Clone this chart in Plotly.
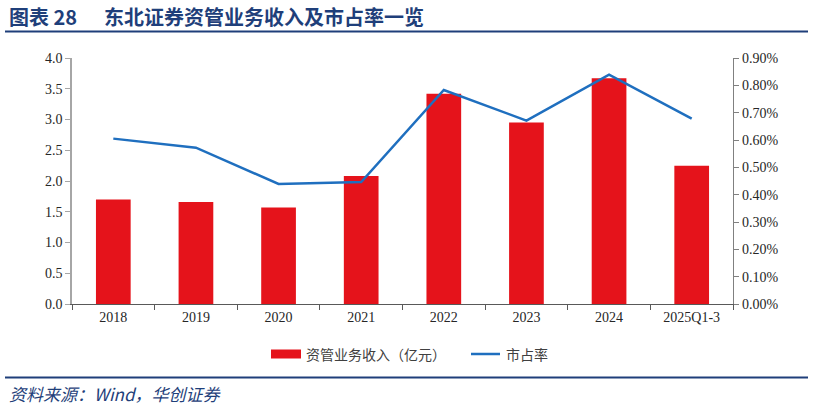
import plotly.graph_objects as go

# 数据
years = ["2018", "2019", "2020", "2021", "2022", "2023", "2024", "2025Q1-3"]
income = [1.70, 1.66, 1.57, 2.08, 3.42, 2.95, 3.67, 2.25]  # 亿元
share = [0.00605, 0.00572, 0.00439, 0.00446, 0.00783, 0.00671, 0.00839, 0.00678]

RED = "#e5131b"
BLUE = "#1f6fbf"
NAVY = "#1f3f7a"
L, R, T, B = 72, 81, 58, 104
W, H = 814, 408
pw, ph = W - L - R, H - T - B


def px_x(x):
    return (x - L) / pw


def px_y(y):
    return (H - B - y) / ph


fig = go.Figure()
fig.add_trace(go.Bar(x=years, y=income, name="资管业务收入（亿元）",
                     marker=dict(color=RED, line=dict(width=0)), width=0.42,
                     showlegend=False))
fig.add_trace(go.Scatter(x=years, y=share, name="市占率", yaxis="y2", mode="lines",
                         line=dict(color=BLUE, width=2.5), showlegend=False))

tickfont = dict(family="Liberation Serif", size=14, color="#262626")
fig.update_layout(
    width=W, height=H,
    margin=dict(l=L, r=R, t=T, b=B),
    paper_bgcolor="white", plot_bgcolor="white",
    xaxis=dict(type="category", tickfont=tickfont, showline=True, linecolor="#595959",
               linewidth=1.2, ticks="outside", tickson="boundaries", ticklen=5,
               tickcolor="#595959", showgrid=False),
    yaxis=dict(range=[0, 4], dtick=0.5, tickformat=".1f", tickfont=tickfont, showline=True,
               linecolor="#a6a6a6", linewidth=1.5, ticks="outside", ticklen=5,
               tickcolor="#a6a6a6", showgrid=False, zeroline=False),
    yaxis2=dict(range=[0, 0.009], dtick=0.001, tickformat=".2%", tickfont=tickfont,
                overlaying="y", side="right", showline=True, linecolor="#808080",
                linewidth=1.2, ticks="outside", ticklen=5, tickcolor="#808080",
                showgrid=False, zeroline=False),
)

cjk = "Noto Sans CJK SC"
shapes = [
    dict(type="line", xref="paper", yref="paper", x0=px_x(5), x1=px_x(808),
         y0=px_y(31.5), y1=px_y(31.5), line=dict(color=NAVY, width=2)),
    dict(type="line", xref="paper", yref="paper", x0=px_x(5), x1=px_x(808),
         y0=px_y(377.5), y1=px_y(377.5), line=dict(color=NAVY, width=2)),
    dict(type="rect", xref="paper", yref="paper", x0=px_x(271), x1=px_x(301),
         y0=px_y(349.5), y1=px_y(358.5), fillcolor=RED, line=dict(width=0)),
    dict(type="line", xref="paper", yref="paper", x0=px_x(471), x1=px_x(500),
         y0=px_y(354), y1=px_y(354), line=dict(color=BLUE, width=2.5)),
]
annotations = [
    dict(text="<b>图表 28</b>", xref="paper", yref="paper", x=px_x(7), y=px_y(17),
         xanchor="left", yanchor="middle", showarrow=False,
         font=dict(family=cjk, size=20, color=NAVY)),
    dict(text="<b>东北证券资管业务收入及市占率一览</b>", xref="paper", yref="paper",
         x=px_x(102), y=px_y(17), xanchor="left", yanchor="middle", showarrow=False,
         font=dict(family=cjk, size=20, color=NAVY)),
    dict(text="资管业务收入（亿元）", xref="paper", yref="paper", x=px_x(304), y=px_y(354),
         xanchor="left", yanchor="middle", showarrow=False,
         font=dict(family=cjk, size=14, color="#404040")),
    dict(text="市占率", xref="paper", yref="paper", x=px_x(504), y=px_y(354),
         xanchor="left", yanchor="middle", showarrow=False,
         font=dict(family=cjk, size=14, color="#404040")),
    dict(text="<i>资料来源：Wind，华创证券</i>", xref="paper", yref="paper", x=px_x(7),
         y=px_y(393), xanchor="left", yanchor="middle", showarrow=False,
         font=dict(family=cjk, size=17, color=NAVY)),
]
fig.update_layout(shapes=shapes, annotations=annotations)

# 去掉页面默认边距，让图从左上角开始
fig.write_html("out.html", config={"displayModeBar": False},
               post_script="document.body.style.margin='0';")
